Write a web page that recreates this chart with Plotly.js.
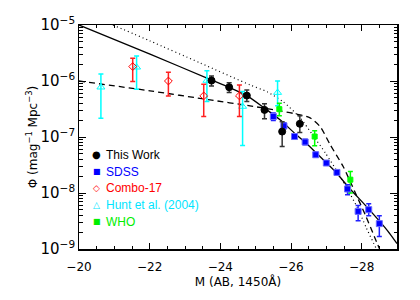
<!DOCTYPE html>
<html>
<head>
<meta charset="utf-8">
<script src="https://cdn.plot.ly/plotly-3.0.1.min.js"></script>
<style>html,body{margin:0;padding:0;background:#fff}#chart{width:420px;height:300px}</style>
</head>
<body>
<div id="chart"></div>
<script>
// ---- data ----
const thisWorkM   = [-23.75, -24.25, -24.75, -25.25, -25.75, -26.25];
const thisWorkPhi = [1.02e-6, 7.74e-7, 5.49e-7, 3.05e-7, 1.25e-7, 1.72e-7];
const thisWorkHi  = [1.23e-6, 9.35e-7, 6.93e-7, 3.91e-7, 1.88e-7, 2.39e-7];
const thisWorkLo  = [8.18e-7, 6.21e-7, 4.30e-7, 2.11e-7, 6.78e-8, 1.20e-7];

const sdssM   = [-25.5, -25.8, -26.1, -26.4, -26.7, -27.0, -27.3, -27.6, -27.9, -28.2, -28.5];
const sdssPhi = [2.32e-7, 1.58e-7, 1.02e-7, 8.15e-8, 4.82e-8, 3.43e-8, 2.33e-8, 1.18e-8, 4.70e-9, 5.04e-9, 2.84e-9];
const sdssHi  = [2.67e-7, 1.79e-7, 1.14e-7, 9.10e-8, 5.33e-8, 3.77e-8, 2.55e-8, 1.41e-8, 6.01e-9, 6.44e-9, 3.94e-9];
const sdssLo  = [1.97e-7, 1.40e-7, 9.10e-8, 7.26e-8, 4.35e-8, 3.13e-8, 2.12e-8, 9.33e-9, 3.21e-9, 3.94e-9, 1.68e-9];

const comboM   = [-21.52, -22.53, -23.53, -24.54];
const comboPhi = [1.81e-6, 1.00e-6, 5.42e-7, 5.42e-7];
const comboHi  = [2.55e-6, 1.44e-6, 8.77e-7, 8.51e-7];
const comboLo  = [9.75e-7, 5.42e-7, 2.32e-7, 2.32e-7];

const huntM   = [-20.62, -21.63, -23.62, -24.63, -25.62];
const huntPhi = [7.74e-7, 1.76e-6, 1.02e-6, 3.50e-7, 6.21e-7];
const huntHi  = [1.34e-6, 2.80e-6, 1.53e-6, 6.47e-7, 1.00e-6];
const huntLo  = [2.17e-7, 7.14e-7, 4.30e-7, 7.05e-8, 3.60e-7];

const whoM   = [-25.67, -26.67, -27.68];
const whoPhi = [3.14e-7, 1.02e-7, 1.73e-8];
const whoHi  = [4.02e-7, 1.29e-7, 2.43e-8];
const whoLo  = [2.39e-7, 6.97e-8, 1.00e-8];

// model curves
const solidM   = [-20.00, -22.01, -23.74, -24.25, -24.76, -25.24, -25.69, -26.12, -26.42, -26.71, -27.00, -27.31, -27.59, -28.19, -28.73, -29.00];
const solidPhi = [1.00e-5, 3.01e-6, 1.05e-6, 7.69e-7, 5.42e-7, 3.31e-7, 2.03e-7, 1.14e-7, 7.89e-8, 5.22e-8, 3.47e-8, 2.21e-8, 1.35e-8, 5.25e-9, 2.13e-9, 1.25e-9];
const dottedM   = [-20.96, -22.01, -23.43, -24.84, -25.33, -25.78, -26.26, -26.63, -26.97, -27.31, -27.59, -27.88, -28.13, -28.41];
const dottedPhi = [1.00e-5, 5.19e-6, 2.10e-6, 8.51e-7, 6.40e-7, 4.24e-7, 2.20e-7, 1.05e-7, 5.22e-8, 2.40e-8, 1.19e-8, 5.47e-9, 2.40e-9, 1.02e-9];
const dashedM   = [-20.00, -22.01, -23.71, -24.84, -25.69, -26.26, -26.54, -26.83, -27.11, -27.48, -27.82, -28.10, -28.36, -28.50];
const dashedPhi = [1.00e-6, 6.67e-7, 4.60e-7, 3.60e-7, 2.93e-7, 2.49e-7, 2.20e-7, 1.52e-7, 7.26e-8, 2.94e-8, 1.01e-8, 4.10e-9, 1.66e-9, 1.02e-9];

const xTicks = [-20, -22, -24, -26, -28];
const legendNames  = ['This Work', 'SDSS', 'Combo-17', 'Hunt et al. (2004)', 'WHO'];
const legendColors = ['#000000', '#0000ff', '#ff0000', '#00e5ff', '#00ee00'];
const legendGlyphs = ['\u25CF', '\u25A0', '\u25C7', '\u25B3', '\u25A0'];
const legendGlyphSize = [10, 8, 9, 9, 8];

// ---- helpers ----
function errTrace(m, phi, hi, lo, color, barColor, symbol, size, lineColor) {
  return {
    x: m, y: phi, type: 'scatter', mode: 'markers', showlegend: false,
    marker: {symbol: symbol, size: size, color: color, line: {color: lineColor || color, width: 1}},
    error_y: {type: 'data', symmetric: false,
      array: hi.map((v, i) => v - phi[i]),
      arrayminus: lo.map((v, i) => phi[i] - v),
      color: barColor, thickness: 1.5, width: 2.5}
  };
}
function curve(m, phi, dash, width) {
  return {x: m, y: phi, type: 'scatter', mode: 'lines', showlegend: false,
    line: {color: '#000', width: width, dash: dash, shape: 'spline', smoothing: 0.6}};
}

const traces = [
  curve(solidM, solidPhi, 'solid', 1.3),
  curve(dottedM, dottedPhi, '1px,3px', 1.2),
  curve(dashedM, dashedPhi, '6px,4px', 1.3),
  errTrace(huntM, huntPhi, huntHi, huntLo, '#00ffff', '#00ffff', 'triangle-up-open', 7),
  errTrace(comboM, comboPhi, comboHi, comboLo, '#ff0000', '#ff2020', 'diamond-open', 6),
  errTrace(whoM, whoPhi, whoHi, whoLo, '#00ff00', '#00ff00', 'square', 5),
  errTrace(sdssM, sdssPhi, sdssHi, sdssLo, '#0000ff', '#2020ff', 'square', 6, '#6a6aff'),
  errTrace(thisWorkM, thisWorkPhi, thisWorkHi, thisWorkLo, '#000000', '#333333', 'circle', 7)
];

// legend drawn as annotations (pixel layout of the reference)
const plotL = 79, plotR = 396.7, plotT = 25, plotB = 249.3;
const px2x = p => (p - plotL) / (plotR - plotL);
const px2y = p => (plotB - p) / (plotB - plotT);
const annotations = [];
legendNames.forEach((name, i) => {
  const yc = 155 + i * 16.75;
  annotations.push({xref: 'paper', yref: 'paper', x: px2x(96.7), y: px2y(yc), xanchor: 'center', yanchor: 'middle',
    text: legendGlyphs[i], showarrow: false, font: {family: 'DejaVu Sans', size: legendGlyphSize[i], color: legendColors[i]}});
  annotations.push({xref: 'paper', yref: 'paper', x: px2x(104), y: px2y(yc), xanchor: 'left', yanchor: 'middle',
    text: name, showarrow: false, font: {family: 'Liberation Sans, Arial', size: 12, color: legendColors[i]}});
});

const axisCommon = {
  showline: true, linecolor: '#000', linewidth: 1.5, mirror: 'allticks',
  ticks: 'inside', tickcolor: '#000', tickwidth: 1, showgrid: false, zeroline: false,
  tickfont: {family: 'DejaVu Sans', size: 12, color: '#000'}
};

const layout = {
  width: 420, height: 300,
  margin: {l: plotL, r: 420 - plotR, t: plotT, b: 300 - plotB},
  paper_bgcolor: '#fff', plot_bgcolor: '#fff',
  font: {family: 'DejaVu Sans', color: '#000'},
  xaxis: Object.assign({}, axisCommon, {
    range: [-20, -29], tickvals: xTicks, ticklen: 6, ticklabelstandoff: 6,
    minor: {dtick: 0.5, ticklen: 3, ticks: 'inside', tickcolor: '#000', showgrid: false},
    title: {text: 'M (AB, 1450Å)', font: {family: 'DejaVu Sans', size: 12}, standoff: 4}
  }),
  yaxis: Object.assign({}, axisCommon, {
    type: 'log', range: [-9, -5], dtick: 1, exponentformat: 'power', ticklen: 7,
    minor: {dtick: 'D1', ticklen: 3.5, ticks: 'inside', tickcolor: '#000', showgrid: false},
    title: {text: 'Φ (mag<sup>−1</sup> Mpc<sup>−3</sup>)', font: {family: 'DejaVu Sans', size: 12}, standoff: 0}
  }),
  annotations: annotations,
  showlegend: false
};

Plotly.newPlot('chart', traces, layout, {staticPlot: true, displayModeBar: false});
</script>
</body>
</html>
